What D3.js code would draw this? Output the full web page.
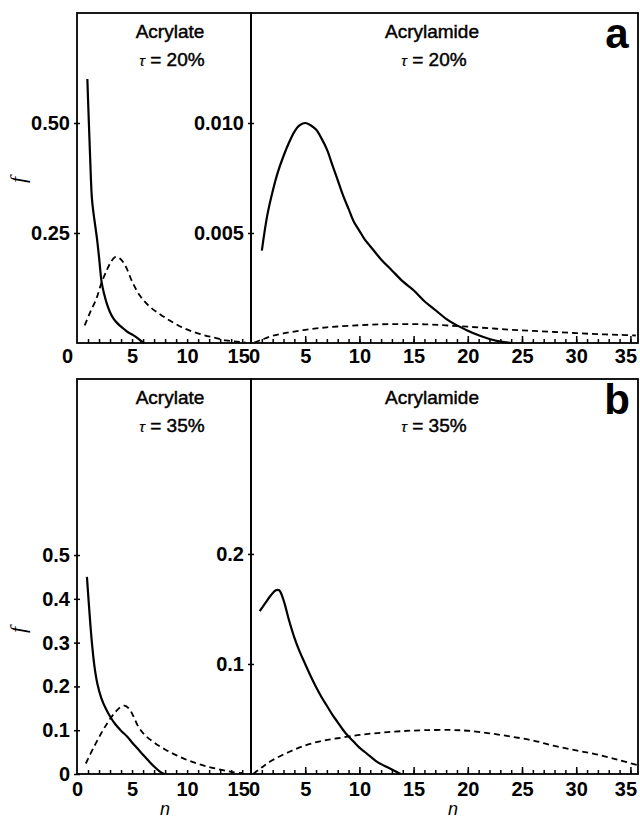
<!DOCTYPE html>
<meta charset="utf-8">
<script src="https://d3js.org/d3.v7.min.js"></script>
<style>
  body { margin: 0; background: #fff; }
  svg text { font-family: "Liberation Sans", Arial, Helvetica, sans-serif; fill: #000; }
  .tick text { font-size: 20px; font-weight: bold; }
  .title { font-size: 19px; stroke: #000; stroke-width: 0.45px; }
</style>
<body>
<div id="my_dataviz"></div>
<script>

// tick labels
const xTicksLeft = [0, 5, 10, 15];
const xTicksRight = [0, 5, 10, 15, 20, 25, 30, 35];
const yTicksA1 = [0.25, 0.50];
const yTicksA2 = [0.005, 0.010];
const yTicksB1 = [0, 0.1, 0.2, 0.3, 0.4, 0.5];
const yTicksB2 = [0.1, 0.2];

// (n, f)
const acrylate20Solid = [[0.94,0.60],[1.05,0.52],[1.18,0.43],[1.35,0.33],[1.5,0.295],[1.8,0.24],[2.0,0.195],[2.25,0.136],[2.5,0.108],[2.7,0.09],[3.0,0.07],[3.3,0.056],[3.7,0.044],[4.2,0.033],[4.6,0.025],[5.1,0.018],[5.5,0.011],[5.9,0.003],[6.1,0]];
const acrylate20Dashed = [[0.7,0.04],[1.2,0.07],[1.75,0.1],[2.2,0.135],[2.7,0.165],[3.1,0.185],[3.5,0.196],[3.9,0.192],[4.4,0.175],[5.0,0.14],[5.7,0.108],[6.5,0.085],[7.5,0.066],[8.5,0.05],[9.5,0.036],[10.5,0.026],[11.5,0.018],[12.5,0.012],[13.5,0.006],[14.5,0.003],[15.3,0.001]];
const acrylamide20Solid = [[1.0,0.0042],[1.5,0.0058],[2.0,0.0069],[2.5,0.0078],[3.0,0.0085],[3.5,0.0091],[4.0,0.0096],[4.5,0.0099],[5.0,0.0100],[5.5,0.0099],[6.0,0.0097],[6.5,0.0093],[7.0,0.0088],[7.5,0.0081],[8.0,0.0074],[8.5,0.0067],[9.0,0.0061],[9.5,0.0055],[10.0,0.0051],[10.5,0.0047],[11.0,0.0044],[12.0,0.0038],[13.0,0.0033],[14.0,0.0028],[15.0,0.0024],[16.0,0.0019],[17.0,0.0015],[18.0,0.0011],[19.0,0.0008],[20.0,0.00056],[21.0,0.00035],[22.0,0.00018],[23.0,0.00006],[24.0,0]];
const acrylamide20Dashed = [[0.3,0.00002],[1.0,0.00015],[2.0,0.00033],[3.5,0.00048],[5.0,0.0006],[6.5,0.00069],[8.0,0.00075],[10.0,0.00081],[12.0,0.00085],[14.0,0.00086],[16.0,0.00085],[18.0,0.0008],[20.0,0.00074],[22.0,0.00067],[24.0,0.0006],[26.0,0.00055],[28.0,0.0005],[30.0,0.00045],[32.0,0.0004],[34.0,0.00037],[35.5,0.00034]];
const acrylate35Solid = [[0.9,0.45],[1.1,0.38],[1.25,0.33],[1.41,0.285],[1.6,0.243],[1.86,0.205],[2.2,0.174],[2.6,0.15],[3.06,0.129],[3.5,0.113],[4.0,0.099],[4.57,0.085],[5.0,0.072],[5.5,0.058],[6.06,0.042],[6.5,0.03],[7.0,0.017],[7.5,0.006],[7.9,0]];
const acrylate35Dashed = [[0.8,0.024],[1.5,0.06],[2.2,0.093],[2.8,0.118],[3.4,0.139],[3.9,0.152],[4.3,0.156],[4.7,0.15],[5.1,0.133],[5.6,0.107],[6.2,0.088],[7.0,0.072],[8.0,0.056],[9.0,0.043],[10.0,0.032],[11.0,0.023],[12.0,0.016],[13.0,0.01],[14.0,0.005],[15.0,0.002]];
const acrylamide35Solid = [[0.8,0.148],[1.3,0.155],[1.8,0.162],[2.3,0.167],[2.6,0.167],[3.0,0.158],[3.5,0.14],[4.0,0.124],[4.5,0.111],[5.0,0.1],[5.5,0.089],[6.0,0.079],[6.5,0.07],[7.0,0.062],[7.5,0.054],[8.0,0.047],[8.5,0.04],[9.0,0.034],[9.5,0.029],[10,0.024],[10.5,0.02],[11,0.016],[11.5,0.012],[12,0.009],[12.5,0.0065],[13,0.004],[13.5,0.0015],[13.8,0]];
const acrylamide35Dashed = [[0.2,0],[1.0,0.006],[2.0,0.0127],[3.5,0.02],[5.0,0.026],[6.5,0.03],[8.0,0.0325],[10,0.0355],[12,0.0375],[14,0.039],[16,0.0398],[18.5,0.04],[20,0.0393],[22,0.037],[24,0.034],[26,0.0305],[28,0.0255],[30,0.0215],[32,0.0175],[34,0.0125],[35.7,0.008]];

const svg = d3.select("#my_dataviz")
  .append("svg")
    .attr("width", 640)
    .attr("height", 818);

// the two rows of the figure
const rowA = {y0: 13, y1: 343, label: "a", tau: "20%"},
      rowB = {y0: 379, y1: 774, label: "b", tau: "35%"};

// shared n scales
const xLeft = d3.scaleLinear().domain([0, 15.8]).range([77, 251]);
const xRight = d3.scaleLinear().domain([0, 35.7]).range([251, 638]);

const panels = [
  {row: rowA, x: xLeft, y: d3.scaleLinear().domain([0, 0.75]).range([rowA.y1, rowA.y0]),
   yTicks: yTicksA1, fmt: d3.format(".2f"), xTicks: xTicksLeft, solid: acrylate20Solid, dashed: acrylate20Dashed, title: "Acrylate", cx: 170, side: "L"},
  {row: rowA, x: xRight, y: d3.scaleLinear().domain([0, 0.015]).range([rowA.y1, rowA.y0]),
   yTicks: yTicksA2, fmt: d3.format(".3f"), xTicks: xTicksRight, solid: acrylamide20Solid, dashed: acrylamide20Dashed, title: "Acrylamide", cx: 432, side: "R"},
  {row: rowB, x: xLeft, y: d3.scaleLinear().domain([0, 0.902]).range([rowB.y1, rowB.y0]),
   yTicks: yTicksB1, fmt: d => d === 0 ? "0" : d3.format(".1f")(d), xTicks: xTicksLeft, solid: acrylate35Solid, dashed: acrylate35Dashed, title: "Acrylate", cx: 170, side: "L"},
  {row: rowB, x: xRight, y: d3.scaleLinear().domain([0, 0.359]).range([rowB.y1, rowB.y0]),
   yTicks: yTicksB2, fmt: d3.format(".1f"), xTicks: xTicksRight, solid: acrylamide35Solid, dashed: acrylamide35Dashed, title: "Acrylamide", cx: 432, side: "R"}
];

panels.forEach(function(p) {
  const g = svg.append("g");
  const x0 = p.x.range()[0], x1 = p.x.range()[1];

  // frame
  g.append("rect")
    .attr("x", x0).attr("y", p.row.y0)
    .attr("width", x1 - x0).attr("height", p.row.y1 - p.row.y0)
    .attr("fill", "none").attr("stroke", "#000").attr("stroke-width", 1.8);

  // minor ticks every unit, pointing up
  const maxN = Math.floor(p.x.domain()[1]);
  g.append("g")
    .attr("transform", `translate(0, ${p.row.y1})`)
    .call(d3.axisTop(p.x).tickValues(d3.range(1, maxN + 1)).tickSize(4).tickFormat(""))
    .call(a => a.select(".domain").remove())
    .selectAll("line").attr("stroke-width", 1.5);

  if (p.side === "R") {
    g.append("g")
      .attr("transform", `translate(0, ${p.row.y1})`)
      .call(d3.axisTop(p.x).tickValues(d3.range(5, maxN + 1, 5)).tickSize(7).tickFormat(""))
      .call(a => a.select(".domain").remove())
      .selectAll("line").attr("stroke-width", 1.5);
  }

  // x tick labels
  g.append("g")
    .attr("transform", `translate(0, ${p.row.y1})`)
    .call(d3.axisBottom(p.x).tickValues(p.xTicks).tickSize(0).tickPadding(p.row === rowA ? 6 : 8).tickFormat(d3.format("d")))
    .call(a => a.select(".domain").remove())
    .selectAll("text")
      .attr("dx", function(d) {
        if (p.side === "L" && d === 15) return -4;
        if (p.side === "R" && d === 0) return 3;
        if (p.side === "R" && d === 35) return -5;
        if (p.side === "L" && d === 0 && p.row === rowA) return -10;
        return 0;
      });

  // y axis
  g.append("g")
    .attr("transform", `translate(${x0}, 0)`)
    .call(d3.axisLeft(p.y).tickValues(p.yTicks).tickSize(4).tickPadding(3).tickFormat(p.fmt))
    .call(a => a.select(".domain").remove())
    .call(a => a.selectAll("line").attr("x2", -3).attr("x1", 3).attr("stroke-width", 1.5));

  // curves
  const clipId = "clip" + p.side + p.row.label;
  g.append("clipPath").attr("id", clipId)
    .append("rect").attr("x", x0).attr("y", p.row.y0).attr("width", x1 - x0).attr("height", p.row.y1 - p.row.y0 + 1);

  const line = d3.line()
    .x(d => p.x(d[0]))
    .y(d => p.y(d[1]))
    .curve(d3.curveCatmullRom.alpha(0.5));

  g.append("path")
    .datum(p.dashed)
    .attr("clip-path", `url(#${clipId})`)
    .attr("fill", "none")
    .attr("stroke", "#000")
    .attr("stroke-width", 1.8)
    .attr("stroke-dasharray", "6,4")
    .attr("d", line);

  g.append("path")
    .datum(p.solid)
    .attr("clip-path", `url(#${clipId})`)
    .attr("fill", "none")
    .attr("stroke", "#000")
    .attr("stroke-width", 2.2)
    .attr("d", line);

  // titles
  g.append("text")
    .attr("class", "title")
    .attr("x", p.cx).attr("y", p.row.y0 + 25)
    .attr("text-anchor", "middle")
    .text(p.title);

  const t = g.append("text")
    .attr("class", "title")
    .attr("x", p.cx + 2).attr("y", p.row.y0 + 53)
    .attr("text-anchor", "middle");
  t.append("tspan").attr("font-style", "italic").attr("font-size", 15).attr("stroke-width", 0.2).text("τ");
  t.append("tspan").text(" = " + p.row.tau);
});

// panel letters
[rowA, rowB].forEach(function(r) {
  svg.append("text")
    .attr("x", 617).attr("y", r.y0 + 35)
    .attr("text-anchor", "middle")
    .attr("font-size", 42).attr("font-weight", "bold")
    .text(r.label);

  // f axis title
  svg.append("text")
    .attr("transform", `translate(25, ${r === rowA ? 180 : 630}) rotate(-90)`)
    .attr("text-anchor", "middle")
    .style("font-family", "'Liberation Serif', serif")
    .attr("font-style", "italic")
    .attr("font-size", 22)
    .text("f");
});

// n axis titles
[165, 453].forEach(function(cx) {
  svg.append("text")
    .attr("x", cx).attr("y", 815)
    .attr("text-anchor", "middle")
    .attr("font-style", "italic")
    .attr("font-size", 18)
    .text("n");
});

</script>
</body>
